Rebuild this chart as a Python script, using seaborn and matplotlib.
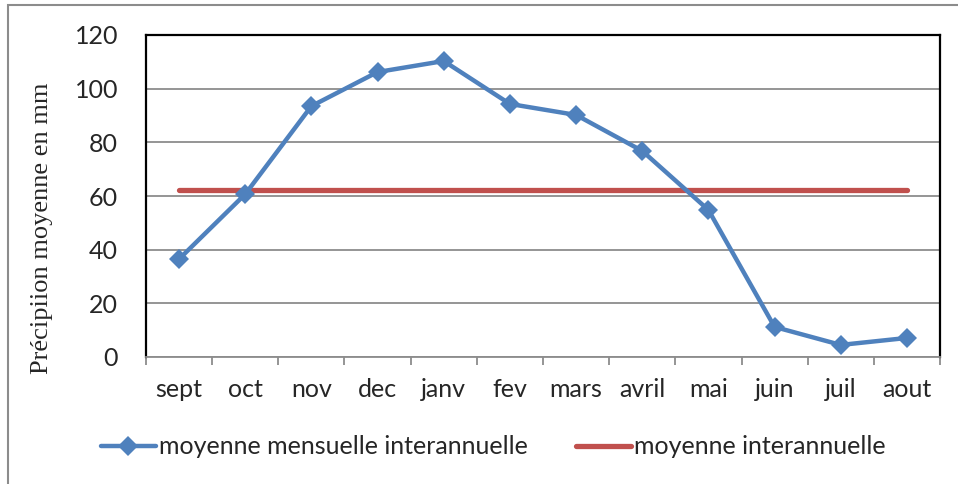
import seaborn as sns
import pandas as pd
import matplotlib.pyplot as plt
from matplotlib.patches import Rectangle
from matplotlib.ticker import FixedLocator

mois = ["sept", "oct", "nov", "dec", "janv", "fev", "mars", "avril", "mai", "juin", "juil", "aout"]
moyenne_mensuelle = [36.5, 60.7, 93.5, 106.2, 110.3, 94.3, 90.2, 76.8, 54.8, 11.2, 4.5, 7.1]
moyenne_interannuelle = 62.2
yticks = [0, 20, 40, 60, 80, 100, 120]

blue = "#4F81BD"
red = "#C0504D"

data = pd.DataFrame({"Mois": mois, "Mensuelle": moyenne_mensuelle,
                     "Annuelle": [moyenne_interannuelle] * len(mois)})

sns.set_style("white")
plt.rcParams['font.family'] = ['Lato', 'DejaVu Sans']

fig = plt.figure(figsize=(9.58, 4.84), dpi=100)
ax = fig.add_axes([146 / 958, 1 - 357 / 484, (940 - 146) / 958, (357 - 35) / 484])

sns.lineplot(x="Mois", y="Mensuelle", data=data, color=blue, linewidth=3.2, marker="D",
             markersize=10.5, markeredgewidth=0, label="moyenne mensuelle interannuelle", ax=ax, zorder=4)
sns.lineplot(x="Mois", y="Annuelle", data=data, color=red, linewidth=3.8,
             label="moyenne interannuelle", ax=ax, zorder=3, solid_capstyle="round")

ax.set_xlim(-0.5, len(mois) - 0.5)
ax.set_ylim(0, 120)
ax.set_yticks(yticks)
ax.yaxis.grid(True, color="#8c8c8c", linewidth=1.3)
ax.set_axisbelow(True)

ax.set_xticks(range(len(mois)))
ax.set_xticklabels(mois)
ax.xaxis.set_minor_locator(FixedLocator([i - 0.5 for i in range(len(mois) + 1)]))
ax.tick_params(axis="x", which="major", length=0, pad=15, labelsize=18)
ax.tick_params(axis="x", which="minor", length=6, width=1.3, color="#8c8c8c", bottom=True)
ax.tick_params(axis="y", length=0, pad=20, labelsize=18)

for side in ["left", "top", "right"]:
    ax.spines[side].set_visible(True)
    ax.spines[side].set_color("black")
    ax.spines[side].set_linewidth(1.6)
ax.spines["bottom"].set_color("#8c8c8c")
ax.spines["bottom"].set_linewidth(1.3)

ax.set_xlabel("")
ax.set_ylabel("Précipiion moyenne en mm", family=["Liberation Serif"], fontsize=19)
ax.yaxis.set_label_coords(-0.117, 0.40)

handles, labels = ax.get_legend_handles_labels()
ax.legend().remove()
fig.legend(handles=handles, labels=labels, loc="center", bbox_to_anchor=(0.515, 1 - 447 / 484),
           ncol=2, frameon=False, fontsize=18, handlelength=2.2, handletextpad=0.15,
           columnspacing=1.9)

fig.add_artist(Rectangle((8 / 958, -0.1), 1.2, 1.1 - 5 / 484, transform=fig.transFigure,
                         fill=False, edgecolor="#8c8c8c", linewidth=1.5))

plt.savefig("out.png", dpi=100)
plt.close()
